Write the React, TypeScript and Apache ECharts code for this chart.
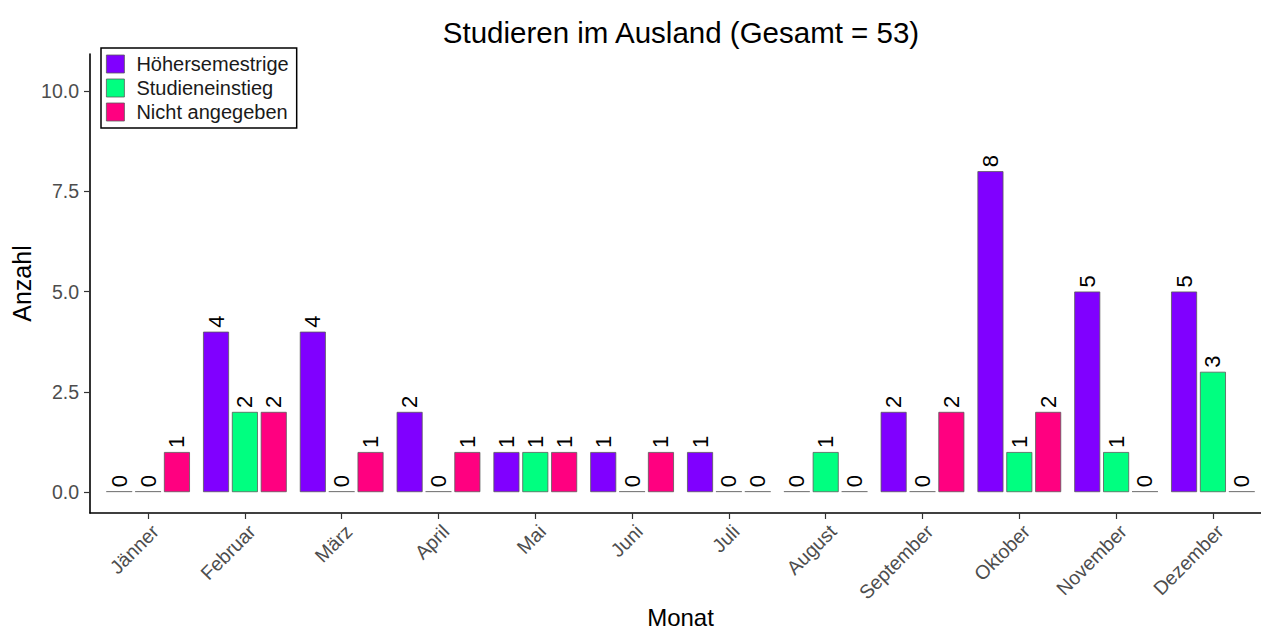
import React, { useEffect, useRef } from "react";
import * as echarts from "echarts";

const months = ["Jänner", "Februar", "März", "April", "Mai", "Juni", "Juli", "August", "September", "Oktober", "November", "Dezember"];
const hoeher = [0, 4, 4, 2, 1, 1, 1, 0, 2, 8, 5, 5];
const einstieg = [0, 2, 0, 0, 1, 0, 0, 1, 0, 1, 1, 3];
const nicht = [1, 2, 1, 1, 1, 1, 0, 0, 2, 2, 0, 0];
const yTicks = [0, 2.5, 5, 7.5, 10];
const seriesNames = ["Höhersemestrige", "Studieneinstieg", "Nicht angegeben"];
const seriesColors = ["#8000FF", "#00FF80", "#FF0080"];

const FONT = "'Liberation Sans', Arial, sans-serif";

export default function App() {
  const ref = useRef<HTMLDivElement>(null);
  useEffect(() => {
    if (!ref.current) return;
    const chart = echarts.init(ref.current, undefined, { renderer: "svg" });
    const all = [hoeher, einstieg, nicht];
    const xIdx = months.map((_, i) => i);
    const series = all.map((vals, s) => ({
      type: "bar",
      name: seriesNames[s],
      barWidth: 26,
      barGap: "11%",
      barMinHeight: 1,
      data: vals.map((v, i) =>
        v === 0
          ? { value: [i, v], itemStyle: { color: "#6a6a6a", borderWidth: 0 } }
          : { value: [i, v] }
      ),
      itemStyle: {
        color: seriesColors[s],
        borderColor: "#5a5a5a",
        borderWidth: 0.8,
      },
      label: {
        show: true,
        position: "top",
        rotate: 90,
        align: "left",
        verticalAlign: "middle",
        distance: 4,
        fontSize: 22,
        fontFamily: FONT,
        color: "#000",
        formatter: (p: any) => String(p.value[1]),
      },
    }));
    chart.setOption({
      animation: false,
      backgroundColor: "#fff",
      textStyle: { fontFamily: FONT },
      title: {
        text: "Studieren im Ausland (Gesamt = 53)",
        left: 676,
        top: 12,
        textAlign: "center",
        textStyle: { fontSize: 29.5, fontWeight: "normal", color: "#000", fontFamily: FONT },
      },
      legend: {
        orient: "vertical",
        left: 101,
        top: 48,
        itemWidth: 18,
        itemHeight: 18,
        itemGap: 2,
        padding: [5, 8, 5, 5],
        borderColor: "#000",
        borderWidth: 1.5,
        icon: "rect",
        textStyle: { fontSize: 20, lineHeight: 22, color: "#1a1a1a", fontFamily: FONT, padding: [0, 0, 0, 7] },
        itemStyle: { borderColor: "#5a5a5a", borderWidth: 0.8 },
        data: seriesNames,
      },
      grid: { left: 90, top: 54, width: 1181, height: 459, containLabel: false, outerBoundsMode: "none" },
      xAxis: {
        type: "value",
        min: -0.6,
        max: 11.6,
        name: "Monat",
        nameLocation: "middle",
        nameGap: 92,
        nameMoveOverlap: false,
        nameTextStyle: { fontSize: 24, color: "#000", fontFamily: FONT },
        axisLine: { show: true, onZero: false, lineStyle: { color: "#000", width: 1.6 } },
        axisTick: { show: true, customValues: xIdx, length: 6, lineStyle: { color: "#333", width: 1.2 } },
        axisLabel: {
          customValues: xIdx,
          rotate: 45,
          margin: 8,
          align: "right",
          verticalAlign: "top",
          fontSize: 19.5,
          color: "#4d4d4d",
          fontFamily: FONT,
          formatter: (v: number) => months[Math.round(v)] ?? "",
        },
        splitLine: { show: false },
      },
      yAxis: {
        type: "value",
        min: -0.52,
        max: 10.92,
        name: "Anzahl",
        nameLocation: "middle",
        nameGap: 56,
        nameMoveOverlap: false,
        nameRotate: 90,
        nameTextStyle: { fontSize: 25, color: "#000", fontFamily: FONT },
        axisLine: { show: true, onZero: false, lineStyle: { color: "#000", width: 1.6 } },
        axisTick: { show: true, customValues: yTicks, length: 6, lineStyle: { color: "#333", width: 1.2 } },
        axisLabel: {
          customValues: yTicks,
          margin: 11,
          fontSize: 19.5,
          color: "#4d4d4d",
          fontFamily: FONT,
          formatter: (v: number) => v.toFixed(1),
        },
        splitLine: { show: false },
      },
      series,
    });
    return () => chart.dispose();
  }, []);
  return <div ref={ref} style={{ position: "absolute", left: 0, top: 0, width: 1261, height: 630 }} />;
}
